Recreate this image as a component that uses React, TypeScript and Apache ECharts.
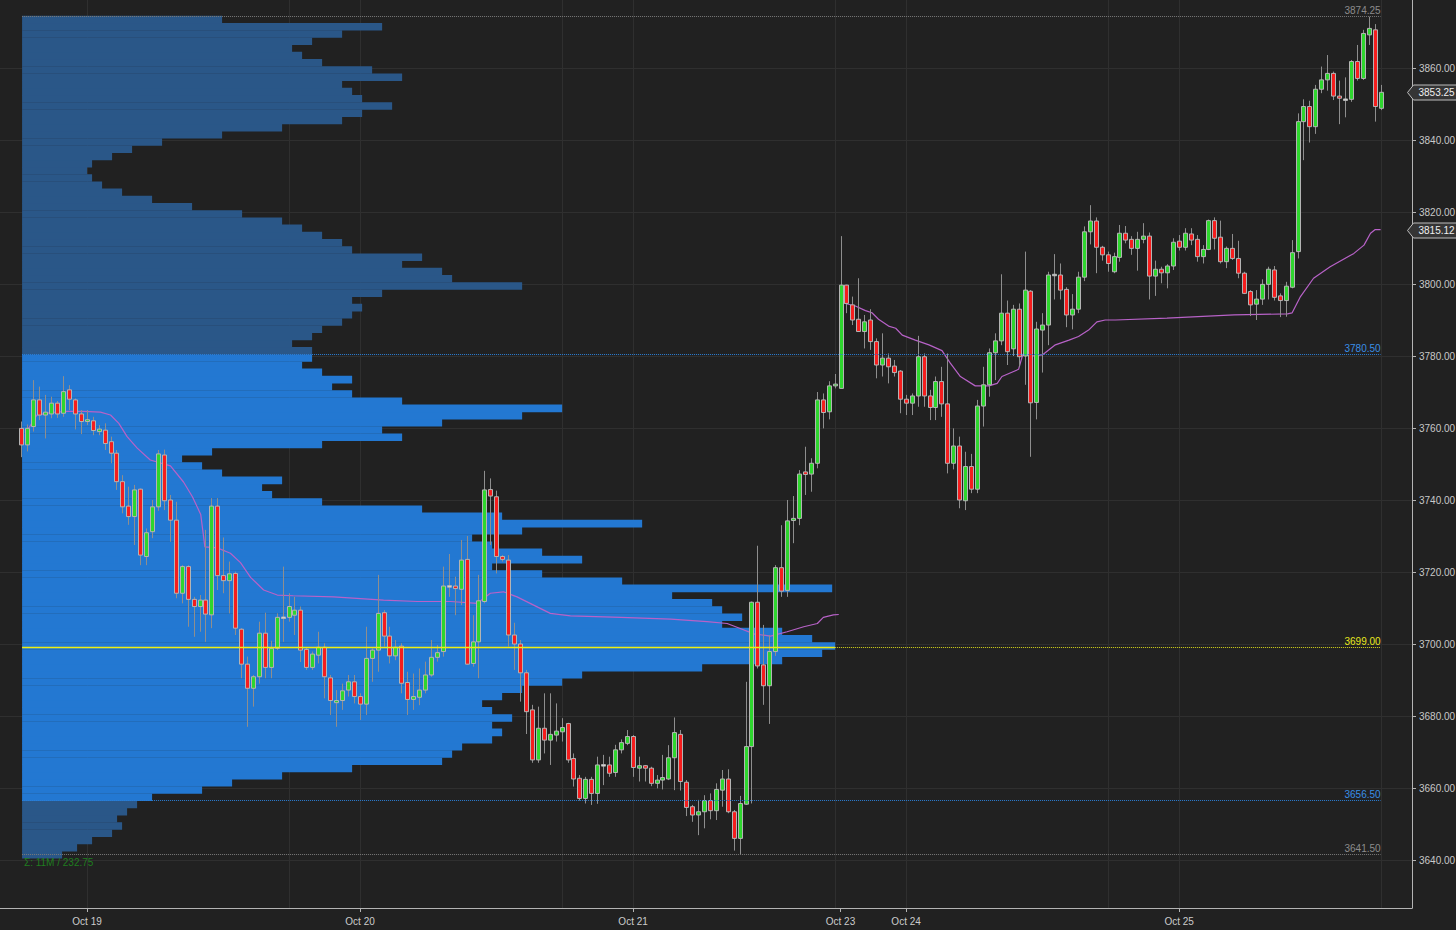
import React, { useEffect, useRef } from "react";
import * as echarts from "echarts";

// ---------- DATA ----------
// 30-minute bars, [open, close, low, high]; bar index = position on the time axis
const candles: number[][] = [
  [3759.9,3755.3,3751.9,3761.8],[3755.3,3759.9,3753.5,3761.0],[3760.4,3767.8,3759.0,3773.3],[3767.8,3763.6,3762.2,3771.5],
  [3763.6,3764.4,3757.1,3769.2],[3763.9,3766.9,3762.7,3768.7],[3766.9,3763.9,3762.8,3767.5],[3764.1,3770.1,3763.1,3774.4],
  [3770.6,3768.0,3765.0,3771.9],[3767.8,3763.9,3759.6,3768.2],[3763.9,3761.8,3758.3,3765.0],[3761.8,3762.3,3760.8,3765.0],
  [3762.0,3759.3,3758.0,3763.1],[3759.0,3759.7,3758.0,3760.8],[3759.4,3755.7,3753.9,3761.3],[3756.2,3753.0,3750.2,3757.6],
  [3753.0,3745.1,3742.8,3753.9],[3745.1,3738.1,3736.3,3746.9],[3738.3,3735.4,3733.1,3743.7],[3735.4,3742.8,3727.5,3744.2],
  [3743.0,3724.7,3721.9,3743.2],[3724.3,3730.9,3721.9,3732.1],[3731.2,3738.1,3729.4,3740.0],[3738.1,3752.8,3737.0,3753.9],
  [3752.5,3739.8,3737.2,3754.0],[3740.0,3734.4,3728.4,3741.4],[3734.4,3714.1,3712.7,3739.5],[3714.1,3721.5,3711.3,3721.9],
  [3721.5,3712.4,3704.8,3721.9],[3712.4,3710.4,3702.0,3713.1],[3710.4,3712.2,3703.4,3713.6],[3712.2,3708.3,3700.6,3731.7],
  [3708.1,3738.3,3704.4,3740.5],[3738.3,3719.0,3715.0,3740.5],[3719.0,3717.6,3714.1,3729.6],[3717.6,3719.5,3708.5,3722.9],
  [3719.6,3704.4,3702.5,3720.1],[3704.1,3694.4,3690.5,3704.4],[3694.4,3687.7,3677.0,3696.5],[3687.7,3690.9,3682.6,3691.4],
  [3690.9,3703.0,3689.0,3706.2],[3703.0,3693.5,3690.5,3708.7],[3693.5,3698.8,3690.5,3700.9],[3698.8,3707.4,3698.3,3708.5],
  [3707.4,3707.5,3700.6,3721.5],[3707.4,3710.4,3706.2,3714.1],
  [3708.0,3709.4,3702.5,3713.1],[3709.4,3698.3,3695.0,3710.4],[3698.5,3693.5,3692.8,3699.2],[3693.5,3697.2,3692.8,3697.9],
  [3696.9,3699.1,3694.6,3703.4],[3699.1,3690.9,3684.9,3700.2],[3690.6,3684.3,3680.3,3691.4],[3683.7,3684.3,3677.0,3687.2],
  [3684.3,3687.0,3681.7,3689.0],[3687.2,3689.5,3685.4,3691.4],[3689.5,3685.4,3683.5,3691.4],[3685.4,3683.3,3678.9,3686.3],
  [3683.3,3696.0,3680.3,3704.8],[3696.0,3698.3,3689.5,3698.8],[3698.3,3708.5,3692.3,3719.2],[3708.7,3702.2,3699.3,3709.4],
  [3702.2,3696.7,3694.6,3704.8],[3696.7,3699.1,3695.5,3701.1],[3699.4,3689.1,3686.3,3700.2],[3689.3,3684.6,3680.3,3692.3],
  [3684.6,3685.4,3681.7,3691.8],[3685.2,3687.2,3683.0,3693.2],[3687.2,3691.4,3686.3,3695.1],[3691.4,3696.3,3690.9,3701.1],
  [3696.3,3697.6,3695.1,3699.7],[3697.9,3716.1,3696.5,3721.5],[3716.1,3716.2,3713.1,3725.0],[3716.1,3715.4,3708.0,3718.7],
  [3715.2,3723.3,3710.8,3728.9],[3723.5,3694.4,3694.2,3730.0],[3694.6,3700.6,3693.7,3708.0],[3700.6,3712.0,3690.5,3719.2],
  [3711.8,3742.8,3711.3,3748.1],[3742.9,3741.1,3727.5,3746.0],[3740.9,3724.3,3719.6,3742.6],[3724.3,3723.5,3722.9,3724.7],
  [3723.3,3702.5,3699.3,3724.7],[3702.5,3700.0,3692.8,3705.9],[3700.0,3692.0,3684.0,3701.1],[3692.0,3681.2,3675.0,3692.8],
  [3681.7,3667.8,3667.0,3683.1],[3667.8,3676.6,3667.0,3682.6],[3676.6,3673.3,3669.6,3686.3],[3673.3,3674.9,3666.4,3686.3],
  [3674.7,3675.8,3672.9,3683.5],[3675.6,3676.8,3672.9,3679.4],
  [3677.9,3667.8,3667.0,3678.1],[3668.2,3662.5,3660.4,3669.6],[3662.7,3657.1,3656.5,3663.6],[3657.1,3662.4,3655.7,3663.1],
  [3662.4,3658.5,3655.3,3663.1],[3658.5,3666.4,3655.6,3668.7],[3666.4,3666.5,3660.8,3669.2],[3666.4,3664.1,3663.1,3668.7],
  [3664.3,3670.6,3663.1,3672.0],[3670.6,3672.6,3669.6,3673.5],[3672.4,3674.3,3671.9,3676.1],[3674.3,3665.7,3663.1,3674.7],
  [3665.5,3666.2,3661.8,3668.7],[3666.2,3665.5,3661.8,3666.4],[3665.5,3661.3,3660.5,3665.9],[3661.3,3662.2,3659.9,3663.6],
  [3662.2,3662.9,3659.6,3669.2],[3662.5,3668.4,3662.2,3671.9],[3668.4,3675.4,3659.4,3679.6],[3674.9,3661.8,3659.3,3676.1],
  [3661.6,3654.6,3652.2,3662.2],[3654.8,3652.5,3650.6,3655.3],[3652.5,3653.4,3646.9,3656.7],[3653.4,3656.5,3648.8,3658.0],
  [3656.5,3653.7,3651.3,3658.5],[3653.7,3659.6,3651.1,3661.3],[3659.4,3662.5,3654.8,3665.0],[3662.5,3653.4,3653.0,3665.2],
  [3653.4,3646.0,3642.6,3653.9],[3646.0,3655.7,3641.5,3657.8],[3655.5,3671.5,3655.3,3689.5],[3671.5,3711.6,3655.7,3711.8],
  [3711.6,3693.9,3693.2,3727.3],[3694.2,3688.4,3683.1,3705.3],[3688.4,3697.9,3677.8,3702.5],[3697.9,3721.2,3696.7,3721.9],
  [3721.2,3714.7,3713.1,3733.0],[3714.9,3734.2,3713.1,3740.0],[3734.3,3734.9,3728.0,3741.1],[3734.9,3747.2,3733.0,3748.3],
  [3747.8,3747.1,3741.4,3754.8],[3747.2,3750.2,3742.3,3751.6],[3750.2,3767.8,3748.8,3770.0],[3767.8,3764.3,3759.9,3769.6],
  [3764.5,3771.7,3762.4,3773.0],[3771.7,3772.2,3771.0,3775.0],
  [3771.0,3799.7,3771.0,3813.3],[3799.7,3794.6,3791.9,3799.8],[3794.2,3790.0,3788.6,3796.5],[3790.2,3786.8,3786.8,3801.6],
  [3786.8,3789.5,3782.1,3791.4],[3790.0,3784.0,3781.7,3793.0],[3784.0,3777.5,3773.8,3784.9],[3777.5,3779.4,3774.3,3786.3],
  [3779.4,3777.0,3772.4,3780.7],[3777.2,3775.4,3774.3,3778.9],[3775.8,3768.0,3764.1,3776.1],[3768.0,3766.9,3763.6,3769.2],
  [3766.9,3768.9,3763.6,3769.6],[3768.9,3779.8,3765.9,3785.6],[3779.8,3768.9,3765.9,3780.7],[3768.9,3765.7,3762.2,3770.6],
  [3765.7,3772.9,3762.2,3774.3],[3772.9,3766.7,3763.1,3777.0],[3766.7,3750.2,3747.4,3780.7],[3750.2,3755.0,3748.5,3759.9],
  [3755.0,3740.0,3737.7,3757.6],[3739.8,3749.3,3737.2,3753.4],[3749.3,3743.0,3741.9,3752.8],[3743.0,3766.1,3741.9,3767.8],
  [3766.1,3772.0,3760.4,3777.0],[3772.0,3780.9,3768.7,3782.1],[3780.9,3784.2,3773.3,3786.3],[3784.2,3791.9,3783.0,3802.7],
  [3791.9,3781.2,3777.5,3795.4],[3782.0,3793.0,3780.0,3794.2],[3793.0,3779.8,3777.0,3794.6],[3780.0,3798.3,3772.0,3809.0],
  [3798.0,3767.0,3752.0,3798.3],[3767.1,3787.5,3762.4,3789.5],[3787.2,3788.6,3775.4,3791.9],[3788.6,3802.5,3783.0,3803.4],
  [3802.5,3802.7,3795.7,3808.3],[3802.5,3798.3,3795.7,3805.7],[3798.5,3791.4,3788.0,3799.1],[3791.4,3793.0,3787.4,3797.2],
  [3793.0,3801.9,3791.9,3803.4],[3801.9,3814.5,3800.8,3816.0],[3814.5,3817.5,3811.0,3821.9],[3817.5,3810.2,3803.0,3818.5],
  [3810.2,3808.1,3806.5,3810.6],[3808.1,3805.7,3803.4,3809.0],
  [3803.4,3807.6,3803.0,3808.7],[3807.4,3814.1,3806.2,3816.4],[3814.1,3812.2,3811.3,3816.1],[3812.4,3809.9,3808.1,3813.3],
  [3809.9,3812.4,3803.7,3814.5],[3812.4,3813.3,3811.3,3816.9],[3813.3,3802.2,3795.7,3814.3],[3802.2,3804.1,3796.7,3806.5],
  [3804.1,3803.1,3800.2,3804.8],[3803.1,3805.0,3798.8,3805.5],[3805.0,3811.6,3803.9,3812.7],[3811.9,3810.2,3809.3,3813.6],
  [3810.2,3814.1,3809.3,3815.5],[3813.9,3812.2,3810.8,3815.5],[3812.4,3807.6,3806.2,3813.6],[3807.6,3809.6,3805.7,3810.8],
  [3809.6,3817.6,3809.4,3817.9],[3817.6,3812.7,3809.6,3818.5],[3813.0,3806.2,3805.7,3817.6],[3806.2,3809.9,3804.4,3810.4],
  [3809.9,3807.1,3806.7,3813.9],[3807.1,3803.0,3801.6,3812.0],[3803.0,3797.4,3797.2,3803.4],[3797.9,3794.2,3791.1,3798.3],
  [3794.4,3795.8,3790.0,3798.3],[3795.8,3799.9,3794.2,3801.3],[3799.9,3804.1,3795.7,3804.8],[3803.9,3796.3,3795.4,3805.0],
  [3796.7,3795.4,3790.8,3797.4],[3795.4,3799.4,3790.9,3800.6],[3799.1,3808.7,3798.8,3812.2],[3809.0,3845.1,3807.1,3847.4],
  [3845.1,3849.3,3834.4,3851.3],[3849.3,3843.7,3839.3,3850.9],[3843.7,3854.1,3841.7,3855.3],[3854.1,3856.7,3853.0,3860.4],
  [3856.7,3858.5,3853.7,3863.6],[3858.5,3852.2,3851.1,3859.0],[3852.2,3851.6,3844.4,3856.5],[3851.3,3851.4,3846.3,3857.4],
  [3851.3,3861.8,3850.6,3862.2],[3861.8,3857.1,3856.5,3866.4],[3857.1,3869.6,3856.7,3870.6],[3869.2,3871.0,3866.4,3874.25],
  [3870.6,3849.3,3845.1,3872.2],[3848.8,3853.25,3848.3,3855.3],
];

// VWAP lines: [bar index, price]
const vwapFirst: number[][] = [
  [1.2,3759.9],[2.6,3763.6],[5,3764.3],[7.7,3764.6],[10.5,3764.6],[13.3,3764.4],[15,3763.6],[16.4,3761.3],[17.8,3757.6],
  [19.5,3754.4],[21.7,3751.1],[25.1,3749.5],[27.3,3745],[28.8,3740.9],[30.2,3736],[30.9,3727],[33,3726.7],[35.2,3725.2],
  [36.9,3722.6],[38.6,3718.5],[40.8,3715],[43.1,3713.6],[45.8,3713.4],[52.6,3713.1],[61,3712.2],[66.7,3711.8],[72.3,3711.8],
  [76.8,3711.3],[79,3714.1],[81.2,3714.5],[83.5,3713.1],[86.3,3710.8],[89.1,3708.5],[92.5,3707.8],[101,3707.4],[109.4,3706.9],
  [115.5,3706.2],[118.9,3705.7],[121.1,3704.3],[123.4,3702.8],[126.2,3702.2],[129,3703.4],[131.8,3704.8],[134.1,3705.7],
  [135.1,3707.4],[136.8,3708.1],[137.7,3708.2],
];
const vwapSecond: number[][] = [
  [138.3,3794.8],[140.5,3793.9],[142.2,3792.6],[143.3,3792],[144.4,3790.2],[146.1,3788.3],[147.3,3787.7],[148.4,3785.8],
  [150.6,3784.4],[152.9,3783.1],[155.1,3781.5],[156.5,3778],[158.2,3774.3],[160.7,3771.7],[163,3771.7],[164.4,3772.4],
  [165.2,3774.3],[168,3776.3],[168.6,3779.8],[169.2,3782.1],[170.3,3780],[172,3780.3],[174.2,3783.1],[176.5,3784.4],
  [178.1,3785.4],[179.8,3787.2],[181.2,3789.5],[182.6,3790],[184.3,3790],[193,3790.5],[204.3,3791.4],[213.3,3791.7],
  [214.1,3792],[215.5,3796.5],[217.7,3801.6],[220.5,3804.8],[224.5,3808.5],[226.2,3810.8],[227.3,3814.1],[228.1,3815.12],
  [229,3815.12],
];

// Volume profile, 2-point rows starting at 3641.5 (row centres), relative volume
const PROFILE_LOW = 3641.5;
const PROFILE_ROW = 2;
const profileVolumes: number[] = [
  40,55,70,90,100,95,105,115,130,180,210,260,330,420,430,440,470,480,470,490,
  470,460,480,500,540,560,680,760,800,813,790,760,700,720,700,690,650,810,600,520,
  470,560,520,470,450,500,620,480,400,300,250,240,260,200,180,160,190,300,380,360,
  420,500,540,380,330,310,330,300,280,290,290,270,290,300,320,330,340,330,360,500,
  430,420,380,400,330,320,300,280,260,220,170,130,100,80,70,65,70,90,110,140,
  200,260,320,340,370,340,330,320,380,350,300,280,270,290,320,360,200,
];

const levelHigh = 3874.25;
const levelVAH = 3780.5;
const levelPOC = 3699.0;
const levelVAL = 3656.5;
const levelLow = 3641.5;
const lastPrice = 3853.25;
const lastVwap = 3815.12;

const yTicks = [3640, 3660, 3680, 3700, 3720, 3740, 3760, 3780, 3800, 3820, 3840, 3860];
const dateLabels = ["Oct 19", "Oct 20", "Oct 21", "Oct 23", "Oct 24", "Oct 25"];
const dateLabelBars = [11.05, 57.05, 103.05, 138, 149.05, 195.05];
const gridBars = [11.05, 45.05, 57.05, 91.05, 103.05, 137.05, 149.05, 183.05, 195.05, 229.05];

// ---------- LAYOUT CONSTANTS ----------
const X_MIN = -3.62;
const X_MAX = 234.29;
const Y_MIN = 3626.667;
const Y_MAX = 3878.889;
const PROFILE_X0 = 0.1;
const PROFILE_MAX_SPAN = 137;
const LAST_BAR = 229;
const POC_END_BAR = 137.05;

const FONT = "Liberation Sans, Arial, sans-serif";

export default function App() {
  const ref = useRef<HTMLDivElement>(null);

  useEffect(() => {
    if (!ref.current) return;
    const chart = echarts.init(ref.current, undefined, { renderer: "svg" });
    const maxVol = Math.max(...profileVolumes);
    const k = PROFILE_MAX_SPAN / maxVol;

    const profileData = profileVolumes.map((v, i) => [PROFILE_LOW + i * PROFILE_ROW, v]);
    const candleData = candles.map((d, i) => [i, d[0], d[1], d[2], d[3]]);

    const seg = (value: number, from: number, to: number, color: string, dashed: boolean, label?: string, labelColor?: string, width = 1) => [
      {
        coord: [from, value],
        lineStyle: { color, type: dashed ? [1, 1] : "solid", width },
        label: label
          ? { show: true, position: "insideEndTop", formatter: label, color: labelColor || color, fontSize: 10, fontFamily: FONT, distance: [0, 1] }
          : { show: false },
      },
      { coord: [to, value] },
    ];

    const option: any = {
      animation: false,
      backgroundColor: "#212121",
      grid: { left: 0, right: 44, top: 0, bottom: 22, containLabel: false, outerBoundsMode: "none" },
      xAxis: {
        type: "value",
        min: X_MIN,
        max: X_MAX,
        axisLine: { show: true, onZero: false, lineStyle: { color: "#b4b4b4", width: 1 } },
        axisTick: { show: true, customValues: dateLabelBars, length: 4, lineStyle: { color: "#b4b4b4" } },
        axisLabel: {
          customValues: dateLabelBars,
          color: "#cccccc",
          fontSize: 10,
          fontFamily: FONT,
          margin: 8,
          formatter: (v: number) => {
            const i = dateLabelBars.findIndex((p) => Math.abs(p - v) < 0.01);
            return i >= 0 ? dateLabels[i] : "";
          },
        },
        splitLine: { show: false },
      },
      yAxis: {
        type: "value",
        position: "right",
        min: Y_MIN,
        max: Y_MAX,
        axisLine: { show: true, onZero: false, lineStyle: { color: "#b4b4b4", width: 1 } },
        axisTick: { show: true, customValues: yTicks, length: 4, lineStyle: { color: "#b4b4b4" } },
        axisLabel: {
          customValues: yTicks,
          color: "#c8c8c8",
          fontSize: 10,
          fontFamily: FONT,
          margin: 7,
          formatter: (v: number) => v.toFixed(2),
        },
        splitLine: { show: false },
      },
      series: [
        {
          type: "line",
          data: [],
          z: 0,
          silent: true,
          markLine: {
            z: 0,
            silent: true,
            symbol: "none",
            animation: false,
            label: { show: false },
            lineStyle: { color: "#2f2f2f", type: "solid", width: 1 },
            data: [...yTicks.map((v) => ({ yAxis: v })), ...gridBars.map((v) => ({ xAxis: v }))],
          },
        },
        {
          type: "custom",
          name: "profile",
          z: 1,
          silent: true,
          data: profileData,
          encode: { y: 0 },
          renderItem: (_p: any, api: any) => {
            const price = api.value(0);
            const vol = api.value(1);
            const a = api.coord([PROFILE_X0, price + PROFILE_ROW / 2]);
            const b = api.coord([PROFILE_X0 + vol * k, price - PROFILE_ROW / 2]);
            const inVA = price > levelVAL && price < levelVAH;
            return {
              type: "rect",
              shape: { x: a[0], y: a[1], width: b[0] - a[0], height: b[1] - a[1] + 0.4 },
              style: { fill: inVA ? "#2378d2" : "#2a5788" },
            };
          },
        },
        {
          type: "line",
          data: vwapFirst,
          z: 3,
          symbol: "none",
          silent: true,
          lineStyle: { color: "#b862c8", width: 1.2 },
        },
        {
          type: "line",
          data: vwapSecond,
          z: 3,
          symbol: "none",
          silent: true,
          lineStyle: { color: "#b862c8", width: 1.2 },
        },
        {
          type: "custom",
          name: "candles",
          z: 4,
          silent: true,
          data: candleData,
          encode: { x: 0, y: [1, 2, 3, 4] },
          renderItem: (_p: any, api: any) => {
            const i = api.value(0);
            const o = api.value(1);
            const c = api.value(2);
            const l = api.value(3);
            const h = api.value(4);
            const pO = api.coord([i, o]);
            const pC = api.coord([i, c]);
            const pL = api.coord([i, l]);
            const pH = api.coord([i, h]);
            const r = Math.round(pO[0]);
            const up = c >= o;
            const doji = Math.abs(c - o) < 0.35;
            const top = Math.min(pO[1], pC[1]);
            const bh = Math.max(Math.abs(pO[1] - pC[1]), 1.5);
            return {
              type: "group",
              children: [
                { type: "line", shape: { x1: r + 0.5, y1: pH[1], x2: r + 0.5, y2: pL[1] }, style: { stroke: "#8e8e8e", lineWidth: 1 } },
                {
                  type: "rect",
                  shape: { x: r - 1.5, y: top, width: 4, height: bh },
                  style: { fill: doji ? "#e6e6e6" : up ? "#2ed62e" : "#f51d1d", stroke: "#b4b4b4", lineWidth: 1 },
                },
              ],
            };
          },
        },
        {
          type: "line",
          data: [],
          z: 6,
          silent: true,
          markLine: {
            silent: true,
            symbol: "none",
            animation: false,
            data: [
              seg(levelHigh, PROFILE_X0, LAST_BAR, "#7a7a7a", true, levelHigh.toFixed(2), "#8c8c8c"),
              seg(levelVAH, PROFILE_X0, LAST_BAR, "#2c7fd6", true, levelVAH.toFixed(2), "#3a8fe6"),
              seg(levelPOC, PROFILE_X0, POC_END_BAR, "#eeee10", false, undefined, undefined, 1.4),
              seg(levelPOC, POC_END_BAR, LAST_BAR, "#d8d81a", true, levelPOC.toFixed(2), "#e8e81e"),
              seg(levelVAL, PROFILE_X0, LAST_BAR, "#2c7fd6", true, levelVAL.toFixed(2), "#3a8fe6"),
              seg(levelLow, PROFILE_X0, LAST_BAR, "#7a7a7a", true, levelLow.toFixed(2), "#8c8c8c"),
            ],
          },
        },
      ],
    };
    chart.setOption(option);

    const tag = (val: number) => {
      const y = Math.round(chart.convertToPixel({ yAxisIndex: 0 }, val) as number) + 0.5;
      const x0 = 1407.5;
      return [
        {
          type: "polygon",
          z: 100,
          shape: { points: [[x0, y], [x0 + 6, y - 7.5], [x0 + 50, y - 7.5], [x0 + 50, y + 7.5], [x0 + 6, y + 7.5]] },
          style: { fill: "#353535", stroke: "#bdbdbd", lineWidth: 1 },
        },
        {
          type: "text",
          z: 101,
          x: x0 + 11,
          y: y,
          style: { text: val.toFixed(2), fill: "#f0f0f0", font: `10px ${FONT}`, verticalAlign: "middle" },
        },
      ];
    };

    chart.setOption({
      graphic: [
        ...tag(lastPrice),
        ...tag(lastVwap),
        {
          type: "text",
          left: 24,
          top: 857,
          z: 100,
          style: { text: "Σ: 11M / 232.75", fill: "#1f7d1f", font: `10px ${FONT}` },
        },
      ],
    });

    return () => chart.dispose();
  }, []);

  return <div ref={ref} style={{ position: "fixed", left: 0, top: 0, width: 1456, height: 930 }} />;
}
